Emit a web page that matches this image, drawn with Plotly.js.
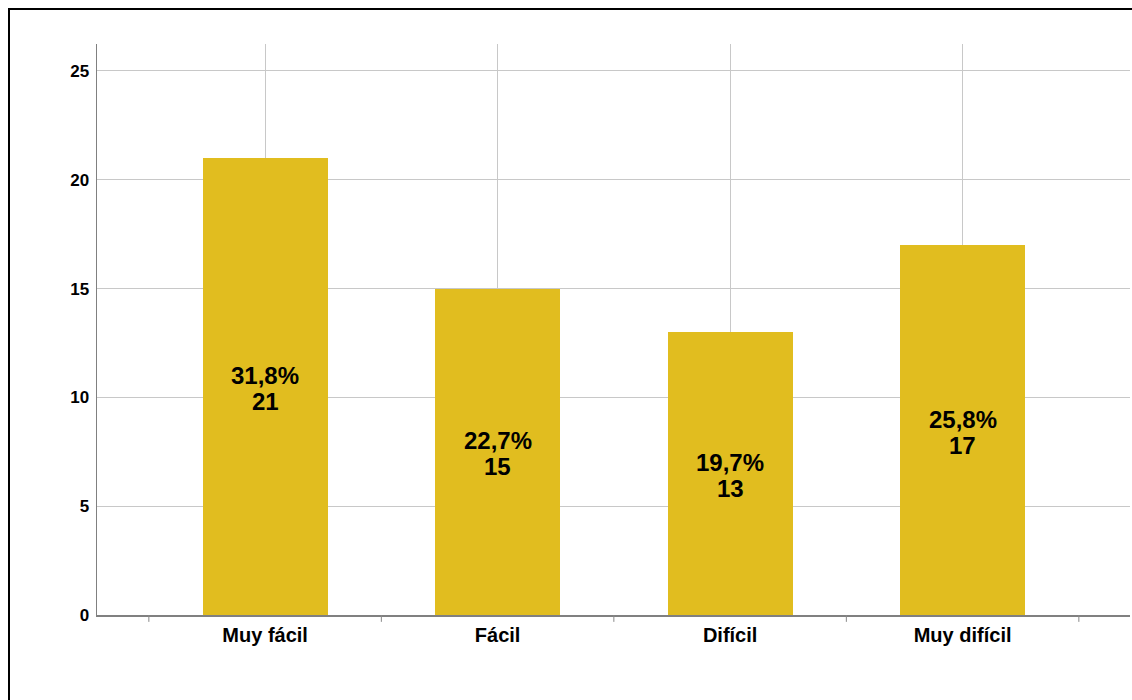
<!DOCTYPE html>
<html>
<head>
<meta charset="utf-8">
<script src="https://cdn.plot.ly/plotly-3.0.1.min.js"></script>
<style>
html,body{margin:0;padding:0;background:#fff;}
#wrap{position:relative;width:1132px;height:700px;overflow:hidden;}
#chart{position:absolute;left:0;top:0;width:1132px;height:700px;}
#frame{position:absolute;left:8px;top:8px;width:1200px;height:800px;border-left:2px solid #000;border-top:2px solid #000;pointer-events:none;}
</style>
</head>
<body>
<div id="wrap"><div id="chart"></div><div id="frame"></div></div>
<script>
const categories = ["Muy fácil", "Fácil", "Difícil", "Muy difícil"];
const counts = [21, 15, 13, 17];
const percentLabels = ["31,8%", "22,7%", "19,7%", "25,8%"];
const yTicks = [0, 5, 10, 15, 20, 25];

const FONT = "Liberation Sans, Arial, sans-serif";

const trace = {
  type: "bar",
  x: [0, 1, 2, 3],
  y: counts,
  width: 0.538,
  marker: {color: "#E1BD1F", line: {width: 0}},
  hoverinfo: "none"
};

const annotations = [];
counts.forEach((c, i) => {
  annotations.push({
    x: i, y: c / 2, xref: "x", yref: "y",
    text: percentLabels[i], showarrow: false,
    yshift: 11,
    font: {family: FONT, size: 24, color: "#000", weight: "bold"}
  });
  annotations.push({
    x: i, y: c / 2, xref: "x", yref: "y",
    text: String(c), showarrow: false,
    yshift: -15,
    font: {family: FONT, size: 24, color: "#000", weight: "bold"}
  });
});

const layout = {
  width: 1132, height: 700,
  margin: {l: 97, r: 2, t: 44, b: 85},
  paper_bgcolor: "#fff", plot_bgcolor: "#fff",
  showlegend: false,
  bargap: 0,
  font: {family: FONT, color: "#000"},
  xaxis: {
    range: [-0.723, 3.72],
    tickvals: [0, 1, 2, 3],
    ticktext: categories,
    ticks: "",
    showgrid: true, gridcolor: "#c8c8c8", gridwidth: 1,
    showline: true, linecolor: "#808080", linewidth: 1.5,
    zeroline: false,
    tickfont: {size: 20, weight: "bold", color: "#000"},
    ticklabelstandoff: 1,
    fixedrange: true
  },
  yaxis: {
    range: [0, 26.24],
    tickvals: yTicks,
    ticks: "",
    showgrid: true, gridcolor: "#c8c8c8", gridwidth: 1,
    showline: true, linecolor: "#808080", linewidth: 1.5,
    zeroline: false,
    tickfont: {size: 17, weight: "bold", color: "#000"},
    ticklabelstandoff: 3,
    fixedrange: true
  },
  annotations: annotations,
  shapes: [-0.5, 0.5, 1.5, 2.5, 3.5].map(v => ({
    type: "line", xref: "x", yref: "paper",
    x0: v, x1: v, y0: 0, y1: -0.012,
    line: {color: "#888", width: 1}
  }))
};

Plotly.newPlot("chart", [trace], layout, {displayModeBar: false, staticPlot: true});
</script>
</body>
</html>
